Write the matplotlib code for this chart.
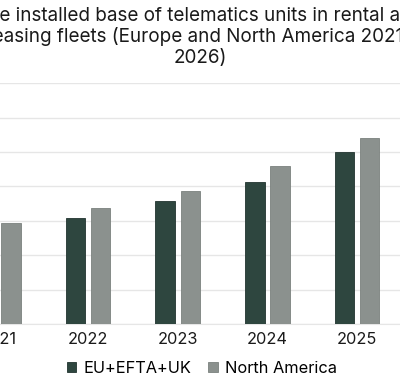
import matplotlib.pyplot as plt
import numpy as np

plt.rcParams['font.family'] = ['Inter', 'DejaVu Sans']

# data (in gridline units)
years = ['2021', '2022', '2023', '2024', '2025', '2026']
eu = [2.65, 3.09, 3.58, 4.14, 5.0, 5.8]
na = [2.94, 3.37, 3.88, 4.59, 5.42, 6.2]

title = ('The installed base of telematics units in rental and\n'
         'leasing fleets (Europe and North America 2021–\n2026)')

fig = plt.figure(figsize=(4.0, 3.82), dpi=100)
ax = fig.add_axes([-0.116, 0.1518, 1.345, 0.630])

x = np.arange(len(years))
w = 0.217
off = 0.141
ax.bar(x - off, eu, w, color='#2e463f', edgecolor='#22342f', linewidth=0.6,
       label='EU+EFTA+UK', zorder=3)
ax.bar(x + off, na, w, color='#8b918e', edgecolor='#7b817e', linewidth=0.6,
       label='North America', zorder=3)

ax.set_xlim(-0.5, 5.5)
ax.set_ylim(0, 7)
ax.set_yticks(range(0, 8))
ax.yaxis.grid(True, color='#e6e6e6', linewidth=1.0, zorder=0)
ax.set_yticklabels([])
ax.tick_params(axis='y', length=0)
ax.set_xticks(x)
ax.set_xticklabels(years, fontsize=11.8, color='#1a1a1a')
ax.tick_params(axis='x', length=0, pad=6)
for s in ['top', 'right', 'left']:
    ax.spines[s].set_visible(False)
ax.spines['bottom'].set_color('#e6e6e6')

fig.text(0.5, 0.982, title, ha='center', va='top', fontsize=13.6,
         linespacing=1.17, color='#1a1a1a')

fig.legend(loc='center', bbox_to_anchor=(0.505, 0.036), ncol=2, frameon=False,
           fontsize=11.8, handlelength=0.6, handleheight=0.6, handletextpad=0.45,
           columnspacing=1.0)

fig.savefig('out.png', dpi=100)
